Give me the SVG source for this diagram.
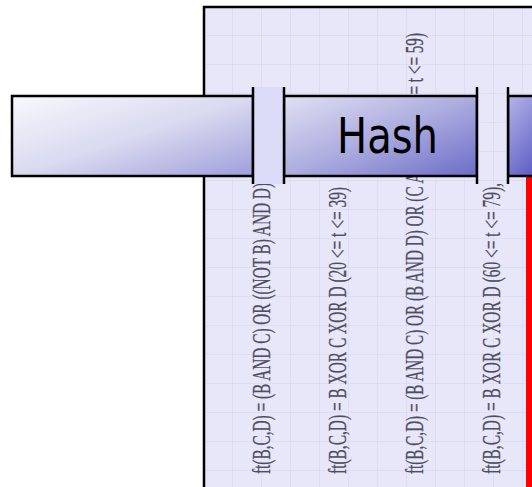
<svg xmlns="http://www.w3.org/2000/svg" width="532" height="487" viewBox="0 0 532 487">
  <defs>
    <pattern id="grid" x="204" y="7" width="29" height="29" patternUnits="userSpaceOnUse">
      <rect width="29" height="29" fill="#e7e7f9"/>
      <path d="M29 0V29M0 29H29" fill="none" stroke="#d4d4f2" stroke-width="1"/>
    </pattern>
    <linearGradient id="barLeft" x1="0" y1="0" x2="1" y2="1">
      <stop offset="0" stop-color="#f8f8fd"/>
      <stop offset="0.5" stop-color="#dadaf0"/>
      <stop offset="1" stop-color="#9e9edb"/>
    </linearGradient>
    <linearGradient id="barHash" x1="0" y1="0" x2="1" y2="1">
      <stop offset="0" stop-color="#e0e0f3"/>
      <stop offset="0.5" stop-color="#acacdf"/>
      <stop offset="1" stop-color="#6c6cc8"/>
    </linearGradient>
    <linearGradient id="barRight" x1="0" y1="0" x2="0.6" y2="1">
      <stop offset="0" stop-color="#b4b4e8"/>
      <stop offset="1" stop-color="#5e5ec4"/>
    </linearGradient>
    <style>
      .frame { stroke: #000; stroke-width: 2.5; }
      .edge { stroke: #000; stroke-width: 2.5; fill: none; }
      .formula { font-family: "Liberation Serif", "Times New Roman", serif; font-size: 25px; fill: #4e4e5e; stroke: #4e4e5e; stroke-width: 0.3; }
      .label { font-family: "DejaVu Sans", Tahoma, sans-serif; font-size: 49px; fill: #000; }
    </style>
  </defs>

  <!-- background sheet with grid -->
  <g id="panel">
    <rect x="204" y="7" width="340" height="490" fill="url(#grid)" class="frame"/>
  </g>

  <!-- rotated round-function formulas -->
  <g id="formulas">
    <text class="formula" transform="translate(270,474) rotate(-90)" textLength="291" lengthAdjust="spacingAndGlyphs">ft(B,C,D) = (B AND C) OR ((NOT B) AND D)</text>
    <text class="formula" transform="translate(346,474) rotate(-90)" textLength="287" lengthAdjust="spacingAndGlyphs">ft(B,C,D) = B XOR C XOR D (20 &lt;= t &lt;= 39)</text>
    <text class="formula" transform="translate(423,474) rotate(-90)" textLength="441" lengthAdjust="spacingAndGlyphs">ft(B,C,D) = (B AND C) OR (B AND D) OR (C AND D) (40 &lt;= t &lt;= 59)</text>
    <text class="formula" transform="translate(500,474) rotate(-90)" textLength="291" lengthAdjust="spacingAndGlyphs">ft(B,C,D) = B XOR C XOR D (60 &lt;= t &lt;= 79),</text>
  </g>

  <!-- red marker strip -->
  <g id="marker">
    <rect x="526" y="176" width="8" height="320" fill="#ff0000"/>
  </g>

  <!-- horizontal bar segments -->
  <g id="bar-left">
    <rect x="12" y="96" width="241" height="80" fill="url(#barLeft)" class="frame"/>
  </g>
  <g id="bar-hash">
    <rect x="284" y="96" width="193" height="80" fill="url(#barHash)" class="frame"/>
    <text class="label" x="337" y="153" textLength="101" lengthAdjust="spacingAndGlyphs">Hash</text>
  </g>
  <g id="bar-right">
    <rect x="508" y="96" width="40" height="80" fill="url(#barRight)" class="frame"/>
  </g>

  <!-- slots between bar segments -->
  <g id="slot-1">
    <rect x="253" y="87" width="31" height="97" fill="#dcdcf8"/>
    <path d="M253 87V184M284 87V184" class="edge"/>
  </g>
  <g id="slot-2">
    <rect x="477" y="87" width="31" height="97" fill="url(#grid)"/>
    <path d="M477 87V184M508 87V184" class="edge"/>
  </g>
</svg>
